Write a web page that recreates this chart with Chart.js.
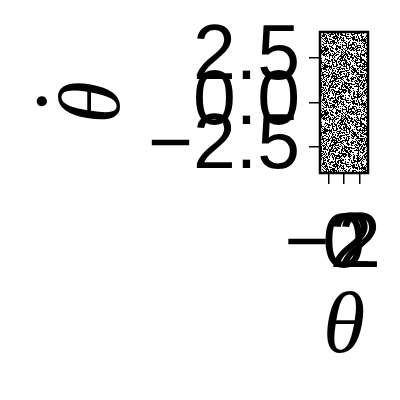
<!DOCTYPE html>
<html>
<head>
<meta charset="utf-8">
<script src="https://cdn.jsdelivr.net/npm/chart.js@4/dist/chart.umd.min.js"></script>
<style>
  html, body { margin: 0; padding: 0; background: #fff; }
</style>
</head>
<body>
<canvas id="phase" width="400" height="400"></canvas>
<script>
// angle range (x) and angular velocity range (y) covered by the sampled cloud
const thetaSpan = [-3.1, 3.1];
const thetaDotSpan = [-3.95, 3.95];
const thetaTicks = [-2, 0, 2];
const thetaDotTicks = [-2.5, 0, 2.5];
const thetaTickLabels = ['\u22122', '0', '2'];
const thetaDotTickLabels = ['\u22122.5', '0.0', '2.5'];

// speckle texture for the dense cloud of points
const noisePattern = function (ctx) {
    const size = 64;
    const c = document.createElement('canvas');
    c.width = size;
    c.height = size;
    const g = c.getContext('2d');
    const img = g.createImageData(size, size);
    for (let y = 0; y < size; y++) {
        for (let x = 0; x < size; x++) {
            let h = Math.imul(x + 17, 374761393) ^ Math.imul(y + 31, 668265263);
            h = Math.imul(h ^ (h >>> 13), 1274126177);
            h = (h ^ (h >>> 16)) >>> 0;
            const v = (h % 100) < 52 ? 0 : 255;
            const i = (y * size + x) * 4;
            img.data[i] = v;
            img.data[i + 1] = v;
            img.data[i + 2] = v;
            img.data[i + 3] = 255;
        }
    }
    g.putImageData(img, 0, 0);
    return ctx.createPattern(c, 'repeat');
}

const frame = {
    id: 'frame',
    afterDatasetsDraw(chart) {
        const { ctx, chartArea: a } = chart;
        ctx.save();
        ctx.strokeStyle = '#000';
        ctx.lineWidth = 2.5;
        ctx.strokeRect(a.left, a.top, a.right - a.left, a.bottom - a.top);
        ctx.restore();
    }
};

const tickFont = { family: 'Liberation Sans', size: 77 };

const ctx = document.getElementById('phase').getContext('2d');
new Chart(ctx, {
    type: 'line',
    data: {
        datasets: [{
            data: thetaSpan.map(x => ({ x: x, y: thetaDotSpan[1] })),
            fill: { value: thetaDotSpan[0] },
            backgroundColor: noisePattern(ctx),
            borderWidth: 0,
            pointRadius: 0
        }]
    },
    options: {
        responsive: false,
        devicePixelRatio: 1,
        animation: false,
        layout: { padding: { top: 32, right: 32, left: 0, bottom: 0 } },
        plugins: { legend: { display: false }, tooltip: { enabled: false } },
        scales: {
            x: {
                type: 'linear',
                min: thetaSpan[0],
                max: thetaSpan[1],
                afterBuildTicks: s => { s.ticks = thetaTicks.map(v => ({ value: v })); },
                afterFit: s => { s.height = 227; s.paddingLeft = 0; s.paddingRight = 0; },
                ticks: {
                    autoSkip: false,
                    maxRotation: 0,
                    minRotation: 0,
                    padding: 16,
                    color: '#000',
                    font: tickFont,
                    callback: (v) => thetaTickLabels[thetaTicks.indexOf(v)]
                },
                grid: { drawOnChartArea: false, drawTicks: true, tickLength: 11, color: '#000', lineWidth: 1.5 },
                border: { display: false },
                title: {
                    display: true,
                    text: '\u03b8',
                    color: '#000',
                    padding: { top: 0, bottom: 19 },
                    font: { family: 'Liberation Serif', style: 'italic', size: 86 }
                }
            },
            y: {
                type: 'linear',
                min: thetaDotSpan[0],
                max: thetaDotSpan[1],
                afterBuildTicks: s => { s.ticks = thetaDotTicks.map(v => ({ value: v })); },
                afterFit: s => { s.width = 320; s.paddingTop = 0; s.paddingBottom = 0; },
                ticks: {
                    autoSkip: false,
                    padding: 9,
                    color: '#000',
                    font: tickFont,
                    callback: (v) => thetaDotTickLabels[thetaDotTicks.indexOf(v)]
                },
                grid: { drawOnChartArea: false, drawTicks: true, tickLength: 11, color: '#000', lineWidth: 1.5 },
                border: { display: false },
                title: {
                    display: true,
                    // dot over theta: the dot sits on its own line, which lands on top once rotated
                    text: ['\u00b7', '\u03b8'],
                    color: '#000',
                    padding: { top: 24, bottom: 0 },
                    font: { family: 'Liberation Serif', style: 'italic', size: 86, lineHeight: 0.56 }
                }
            }
        }
    },
    plugins: [frame]
});
</script>
</body>
</html>
